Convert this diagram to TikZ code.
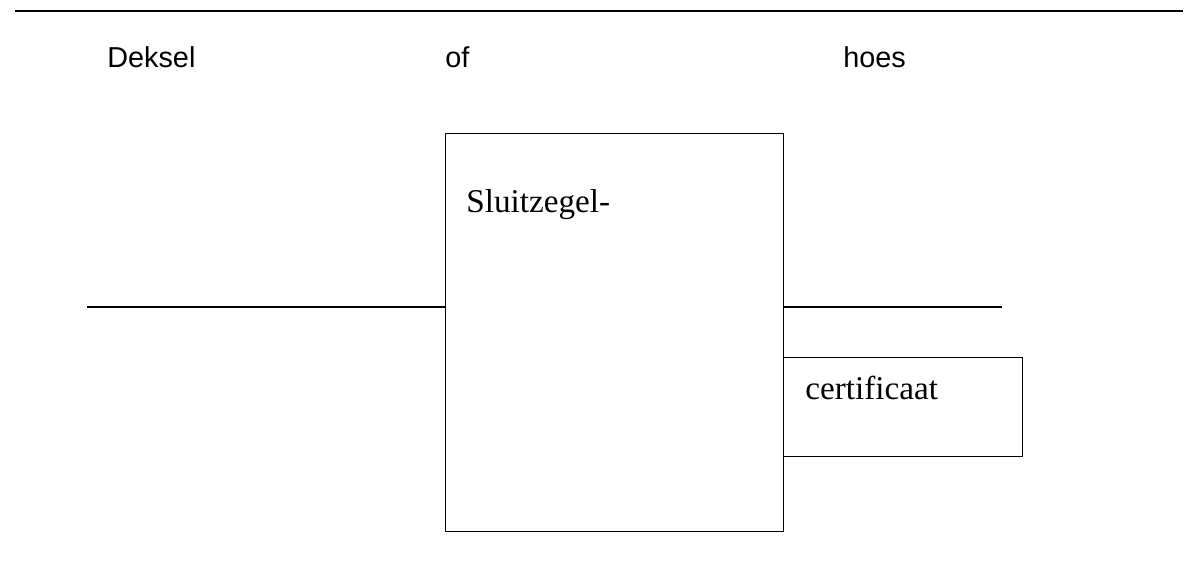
\documentclass[tikz,border=0pt]{standalone}
\usepackage{fontspec}
\setmainfont{Liberation Serif}
\setsansfont{Liberation Sans}
\usetikzlibrary{positioning}

\begin{document}
\begin{tikzpicture}[x=0.02cm, y=-0.02cm]
\tikzset{
    headlabel/.style={anchor=west, inner sep=0pt, font=\sffamily\fontsize{16.4}{19}\selectfont},
    sealbox/.style={draw=black, thick, inner sep=0pt},
    boxtext/.style={anchor=west, inner sep=0pt, font=\fontsize{18.9}{22}\selectfont}
}
\useasboundingbox (0,0) rectangle (1202,562);
\draw[thick] (15,11) -- (1183,11);
\node[headlabel] (deksel) at (107,57) {Deksel};
\node[headlabel] (of) at (445,57) {of};
\node[headlabel] (hoes) at (843,57) {hoes};

\node[sealbox, minimum width=338*0.02cm, minimum height=398*0.02cm, anchor=north west] (seal) at (445,133) {};
\node[boxtext] (sealtext) at (466,205) {Sluitzegel-};
\node[sealbox, minimum width=239*0.02cm, minimum height=99*0.02cm, anchor=north west] (cert) at (783,357) {};
\node[boxtext] (certtext) at (805,388) {certificaat};

\coordinate (leftend) at (87,307);
\coordinate (rightend) at (1002,307);
\draw[thick] (leftend) -- (leftend -| seal.west);
\draw[thick] (rightend -| seal.east) -- (rightend);
\end{tikzpicture}
\end{document}
